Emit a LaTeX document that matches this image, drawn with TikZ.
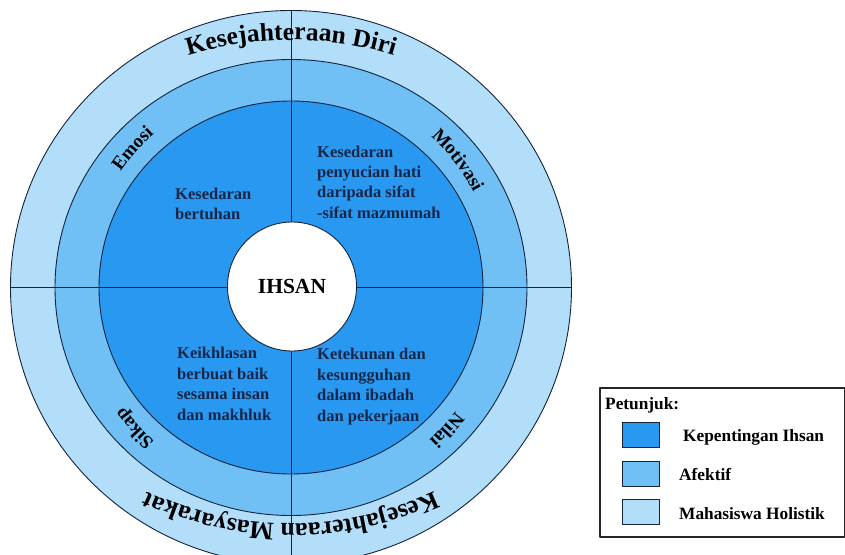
\documentclass[tikz,border=0pt]{standalone}
\usepackage{fontspec}
\setmainfont{Liberation Serif}
\usetikzlibrary{decorations.text}

\definecolor{ringdark}{RGB}{40,152,240}
\definecolor{ringmid}{RGB}{112,192,246}
\definecolor{ringlight}{RGB}{178,222,250}
\definecolor{linenavy}{RGB}{20,35,60}
\definecolor{textnavy}{RGB}{22,38,72}

\newcommand{\ringfont}{\bfseries\fontsize{19}{22}\selectfont}
\newcommand{\rimfont}{\bfseries\fontsize{25.5}{28}\selectfont}

\tikzset{
  ring/.style={draw=linenavy, line width=0.9pt},
  blocktext/.style={font=\bfseries\fontsize{16.5}{20.5}\selectfont, text=textnavy,
    align=left, anchor=base west, inner sep=0pt},
  legendtext/.style={font=\bfseries\fontsize{17.3}{20}\selectfont, anchor=base west, inner sep=0pt},
  swatch/.style={draw=linenavy, line width=1pt, minimum width=37pt, minimum height=25pt,
    inner sep=0pt, anchor=north west},
  arctext/.style={decorate, decoration={text along path, text align=center, text={#1}}}
}

\begin{document}
\begin{tikzpicture}[x=1pt, y=1pt, line join=round]
  \useasboundingbox (-291,-266.5) rectangle (554,287.5);
  % Rings, outside in
  \draw[ring, fill=ringlight] (0,0) ellipse (280.5 and 277);
  \draw[ring, fill=ringmid] (0,0) ellipse (236 and 228);
  \draw[ring, fill=ringdark] (0,0) ellipse (192 and 186.5);
  % Quarter lines
  \draw[ring] (0,277) -- (0,-277);
  \draw[ring] (-280.5,0) -- (280.5,0);
  % Centre
  \node[circle, ring, fill=white, minimum size=129pt, inner sep=0pt,
    font=\bfseries\fontsize{21.5}{24}\selectfont] (ihsan) at (1,1) {IHSAN};
  % Inner quarters (placed at the last baseline)
  \node[blocktext] (bertuhan) at (-116,67.5) {Kesedaran\\bertuhan};
  \node[blocktext] (penyucian) at (26,69) {Kesedaran\\penyucian hati\\daripada sifat\\-sifat mazmumah};
  \node[blocktext] (ikhlas) at (-114,-132.5) {Keikhlasan\\berbuat baik\\sesama insan\\dan makhluk};
  \node[blocktext] (tekun) at (26,-133.5) {Ketekunan dan\\kesungguhan\\dalam ibadah\\dan pekerjaan};
  % Middle ring labels (clockwise arcs)
  \path[arctext={|\ringfont|Emosi}] (160.7:206) arc[start angle=160.7, end angle=116.7, radius=206];
  \path[arctext={|\ringfont|Motivasi}] (59.4:206) arc[start angle=59.4, end angle=15.4, radius=206];
  \path[arctext={|\ringfont|Nilai}] (-20.4:206) arc[start angle=-20.4, end angle=-64.4, radius=206];
  \path[arctext={|\ringfont|Sikap}] (-116:206) arc[start angle=-116, end angle=-160, radius=206];
  % Outer ring labels
  \path[arctext={|\rimfont|Kesejahteraan Diri}] (0,-106.5) ++(115:354) arc[start angle=115, end angle=65, radius=354];
  \path[arctext={|\rimfont|Kesejahteraan Masyarakat}] (0,103) ++(-45:339) arc[start angle=-45, end angle=-135, radius=339];
  % Legend
  \draw[line width=1.8pt, draw=black!85] (309,-100.5) rectangle (553.5,-249.5);
  \node[legendtext] (petunjuk) at (314,-121.5) {Petunjuk:};
  \node[swatch, fill=ringdark] (swdark) at (331,-134.5) {};
  \node[swatch, fill=ringmid] (swmid) at (331,-173.5) {};
  \node[swatch, fill=ringlight] (swlight) at (331,-211.5) {};
  \node[legendtext] (lbdark) at (392,-154) {Kepentingan Ihsan};
  \node[legendtext] (lbmid) at (388,-192.5) {Afektif};
  \node[legendtext] (lblight) at (388,-231.5) {Mahasiswa Holistik};
\end{tikzpicture}
\end{document}
